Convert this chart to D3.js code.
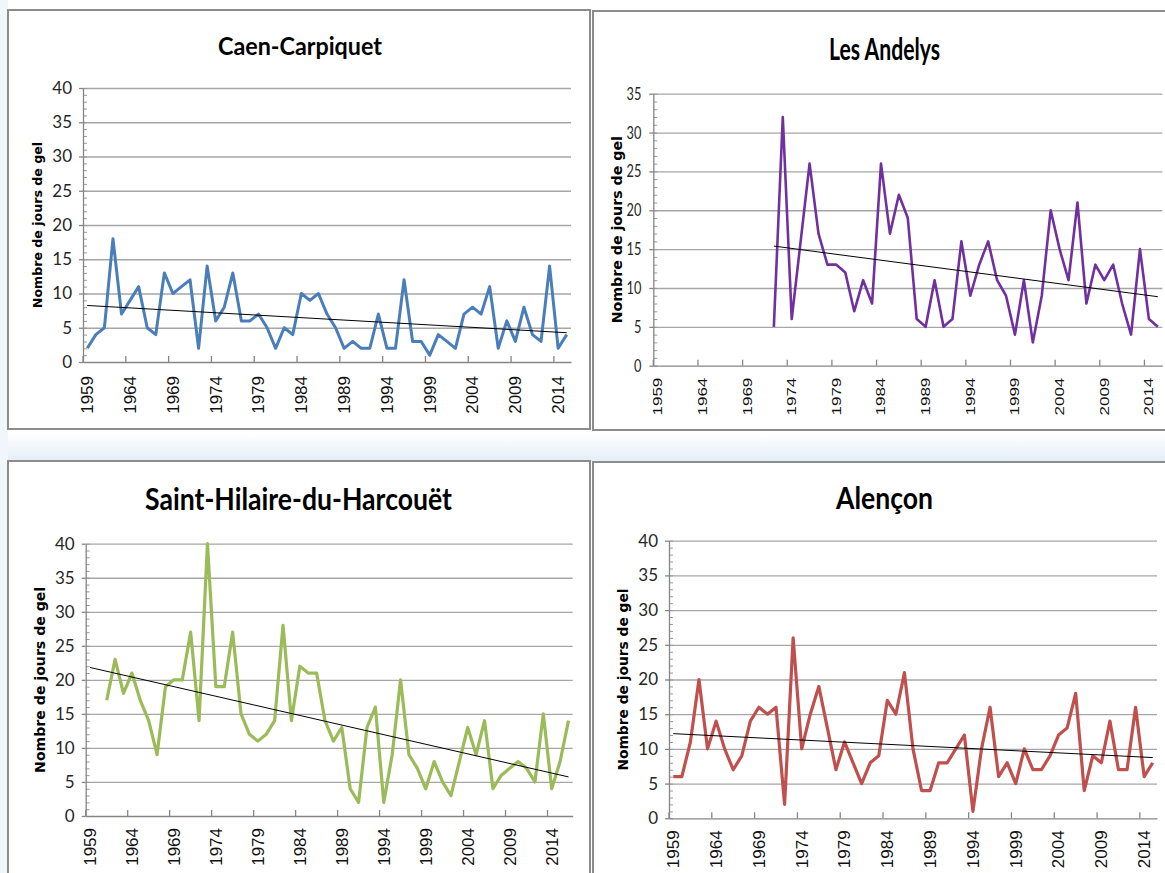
<!DOCTYPE html>
<html>
<head>
<meta charset="utf-8">
<script src="https://cdn.jsdelivr.net/npm/d3@7/dist/d3.min.js"></script>
<style>
  body { margin: 0; background: #fff; }
  svg { display: block; }
</style>
</head>
<body>
<div id="chart"></div>
<script>
// categories (years) on the x axis
var years57 = [1959,1960,1961,1962,1963,1964,1965,1966,1967,1968,1969,1970,1971,1972,1973,1974,1975,1976,1977,1978,
  1979,1980,1981,1982,1983,1984,1985,1986,1987,1988,1989,1990,1991,1992,1993,1994,1995,1996,1997,1998,
  1999,2000,2001,2002,2003,2004,2005,2006,2007,2008,2009,2010,2011,2012,2013,2014,2015];
var years58 = years57.concat([2016]);
var tickYears = [1959,1964,1969,1974,1979,1984,1989,1994,1999,2004,2009,2014];
var yTicks40 = [0,5,10,15,20,25,30,35,40];
var yTicks35 = [0,5,10,15,20,25,30,35];
var yLabel = "Nombre de jours de gel";

// number of frost days per year
var caen = [2,4,5,18,7,9,11,5,4,13, 10,11,12,2,14,6,8,13,6,6, 7,5,2,5,4,10,9,10,7,5,
  2,3,2,2,7,2,2,12,3,3, 1,4,3,2,7,8,7,11,2,6, 3,8,4,3,14,2,4];
var andelys = [null,null,null,null,null,null,null,null,null,null,null,null,null,
  5,32,6,16,26,17,13,13,12,7, 11,8,26,17,22,19,6,5,11,5, 6,16,9,13,16,11,9,4,11,3,
  9,20,15,11,21,8,13,11,13,8, 4,15,6,5];
var saintHilaire = [null,null,
  17,23,18,21,17,14,9,19,20,20, 27,14,40,19,19,27,15,12,11,12, 14,28,14,22,21,21,14,11,13,4,
  2,13,16,2,9,20,9,7,4,8, 5,3,8,13,9,14,4,6,7,8, 7,5,15,4,8,14];
var alencon = [6,6,11,20,10,14,10,7,9,14, 16,15,16,2,26,10,15,19,13,7, 11,8,5,8,9,17,15,21,10,4,
  4,8,8,10,12,1,10,16,6,8, 5,10,7,7,9,12,13,18,4,9, 8,14,7,7,16,6,8];

var panels = [
  {title: "Caen-Carpiquet", values: caen, years: years57, color: "#4a7ebb", ymax: 40, yticks: yTicks40,
   frame: [8, 10, 582, 419], x0: 83, x1: 571, yTop: 88, yBot: 362,
   titleX: 300, titleY: 55, titleSize: 25, titleW: 164, yTitleX: 38, yTitleSize: 12.6,
   xlabOff: 14, squeeze: 1, trendFrom: 1959, lw: 3},
  {title: "Les Andelys", values: andelys, years: years57, color: "#7030a0", ymax: 35, yticks: yTicks35,
   frame: [593, 11, 580, 419], x0: 653.3, x1: 1162.3, yTop: 93.7, yBot: 365.7,
   titleX: 884.5, titleY: 60, titleSize: 30, titleW: 111, yTitleX: 617, yTitleSize: 14.2,
   xlabOff: 12, squeeze: 0.75, trendFrom: 1972, lw: 2.6},
  {title: "Saint-Hilaire-du-Harcouët", values: saintHilaire, years: years58, color: "#9bbb59", ymax: 40, yticks: yTicks40,
   frame: [8, 461, 582, 420], x0: 85.7, x1: 572.7, yTop: 543.7, yBot: 816,
   titleX: 298.5, titleY: 510, titleSize: 30, titleW: 307, yTitleX: 40, yTitleSize: 14.1,
   xlabOff: 12, squeeze: 1, trendFrom: 1959, lw: 3.2},
  {title: "Alençon", values: alencon, years: years57, color: "#c0504d", ymax: 40, yticks: yTicks40,
   frame: [593, 462, 580, 420], x0: 669, x1: 1157, yTop: 540.7, yBot: 818.3,
   titleX: 884.5, titleY: 509, titleSize: 30, titleW: 97, yTitleX: 623.5, yTitleSize: 13.8,
   xlabOff: 12, squeeze: 1, trendFrom: 1959, lw: 3.2}
];

var svg = d3.select("#chart").append("svg")
    .attr("width", 1165)
    .attr("height", 873);

// faint blue slide background showing between the charts
var defs = svg.append("defs");
var band = defs.append("linearGradient").attr("id", "band")
    .attr("x1", 0).attr("x2", 0).attr("y1", 0).attr("y2", 1);
band.append("stop").attr("offset", "0%").attr("stop-color", "#ffffff");
band.append("stop").attr("offset", "100%").attr("stop-color", "#e2edf7");
svg.append("rect").attr("x", 0).attr("y", 434).attr("width", 1165).attr("height", 28)
    .attr("fill", "url(#band)");
svg.append("rect").attr("x", 0).attr("y", 0).attr("width", 8).attr("height", 873)
    .attr("fill", "#f1f6fb");

panels.forEach(function(p) {
    var g = svg.append("g");

    g.append("rect")
        .attr("x", p.frame[0]).attr("y", p.frame[1])
        .attr("width", p.frame[2]).attr("height", p.frame[3])
        .attr("fill", "#fff")
        .attr("stroke", "#8c8c8c")
        .attr("stroke-width", 2);

    var x = d3.scaleBand().domain(p.years).range([p.x0, p.x1]);
    var y = d3.scaleLinear().domain([0, p.ymax]).range([p.yBot, p.yTop]);
    var w = p.x1 - p.x0;
    var sq = p.squeeze;

    // horizontal gridlines
    g.append("g")
        .attr("transform", "translate(" + p.x0 + ",0)")
        .call(d3.axisLeft(y).tickValues(p.yticks.slice(1)).tickSize(-w).tickFormat(""))
        .call(function(s) { s.select(".domain").remove() })
        .selectAll("line")
            .attr("stroke", "#a6a6a6")
            .attr("stroke-width", 1.3);

    // minor ticks inside the y axis
    g.append("g")
        .attr("transform", "translate(" + p.x0 + ",0)")
        .call(d3.axisRight(y).tickValues(d3.range(0, p.ymax + 1)).tickSize(4).tickFormat(""))
        .call(function(s) { s.select(".domain").remove() })
        .selectAll("line")
            .attr("stroke", "#9a9a9a")
            .attr("stroke-width", 1);

    // y axis with labels
    var ya = g.append("g")
        .attr("transform", "translate(" + p.x0 + ",0)")
        .call(d3.axisLeft(y).tickValues(p.yticks).tickSize(4).tickSizeOuter(0));
    ya.select(".domain").attr("stroke", "#868686").attr("stroke-width", 1.3);
    ya.selectAll("line").attr("stroke", "#868686").attr("stroke-width", 1.3);
    ya.selectAll("text")
        .attr("x", 0)
        .attr("transform", "translate(" + (sq < 1 ? -12 : -11) + ",0) scale(" + sq + ",1)")
        .attr("font-family", "Lato, 'Open Sans', sans-serif")
        .attr("font-size", 17)
        .attr("fill", "#262626");

    // x axis: labels centred on the years, ticks on the category borders
    var xa = g.append("g")
        .attr("transform", "translate(0," + p.yBot + ")")
        .call(d3.axisBottom(x).tickValues(tickYears).tickSize(0).tickSizeOuter(0));
    xa.select(".domain").attr("stroke", "#868686").attr("stroke-width", 1.3);
    xa.selectAll("text")
        .attr("x", -p.xlabOff)
        .attr("y", 0)
        .attr("dy", "0.35em")
        .attr("text-anchor", "end")
        .attr("transform", "scale(" + sq + ",1) rotate(-90)")
        .attr("font-family", "'Liberation Sans', Arial, sans-serif")
        .attr("font-size", 17)
        .attr("fill", "#111");

    g.append("g").selectAll("line")
        .data(tickYears)
        .join("line")
            .attr("x1", function(d) { return x(d) })
            .attr("x2", function(d) { return x(d) })
            .attr("y1", p.yBot)
            .attr("y2", p.yBot - 6)
            .attr("stroke", "#868686")
            .attr("stroke-width", 1.3);

    // titles
    g.append("text")
        .attr("x", p.titleX)
        .attr("y", p.titleY)
        .attr("text-anchor", "middle")
        .attr("font-family", "Lato, 'Open Sans', sans-serif")
        .attr("font-weight", 700)
        .attr("font-size", p.titleSize)
        .attr("textLength", p.titleW)
        .attr("lengthAdjust", "spacingAndGlyphs")
        .attr("fill", "#000")
        .text(p.title);

    g.append("text")
        .attr("transform", "translate(" + p.yTitleX + "," + ((p.yTop + p.yBot) / 2) + ") rotate(-90)")
        .attr("text-anchor", "middle")
        .attr("dy", "0.35em")
        .attr("font-family", "'DejaVu Sans', Verdana, sans-serif")
        .attr("font-weight", "bold")
        .attr("font-size", p.yTitleSize)
        .attr("fill", "#000")
        .text(yLabel);

    // data series
    var cx = function(i) { return x(p.years[i]) + x.bandwidth() / 2 };
    var line = d3.line()
        .defined(function(d) { return d != null })
        .x(function(d, i) { return cx(i) })
        .y(function(d) { return y(d) });

    g.append("path")
        .datum(p.values)
        .attr("fill", "none")
        .attr("stroke", p.color)
        .attr("stroke-width", p.lw)
        .attr("stroke-linejoin", "round")
        .attr("d", line);

    // linear trend (least squares on the plotted points)
    var pts = [];
    p.values.forEach(function(v, i) { if (v != null) pts.push([i, v]) });
    var mx = d3.mean(pts, function(d) { return d[0] });
    var my = d3.mean(pts, function(d) { return d[1] });
    var slope = d3.sum(pts, function(d) { return (d[0] - mx) * (d[1] - my) }) /
                d3.sum(pts, function(d) { return (d[0] - mx) * (d[0] - mx) });
    var i0 = p.years.indexOf(p.trendFrom);
    var i1 = p.values.length - 1;
    var trend = [i0, i1].map(function(i) { return [i, my + slope * (i - mx)] });

    g.append("path")
        .datum(trend)
        .attr("fill", "none")
        .attr("stroke", "#000")
        .attr("stroke-width", 1)
        .attr("d", d3.line()
            .x(function(d) { return cx(d[0]) })
            .y(function(d) { return y(d[1]) }));
});
</script>
</body>
</html>
